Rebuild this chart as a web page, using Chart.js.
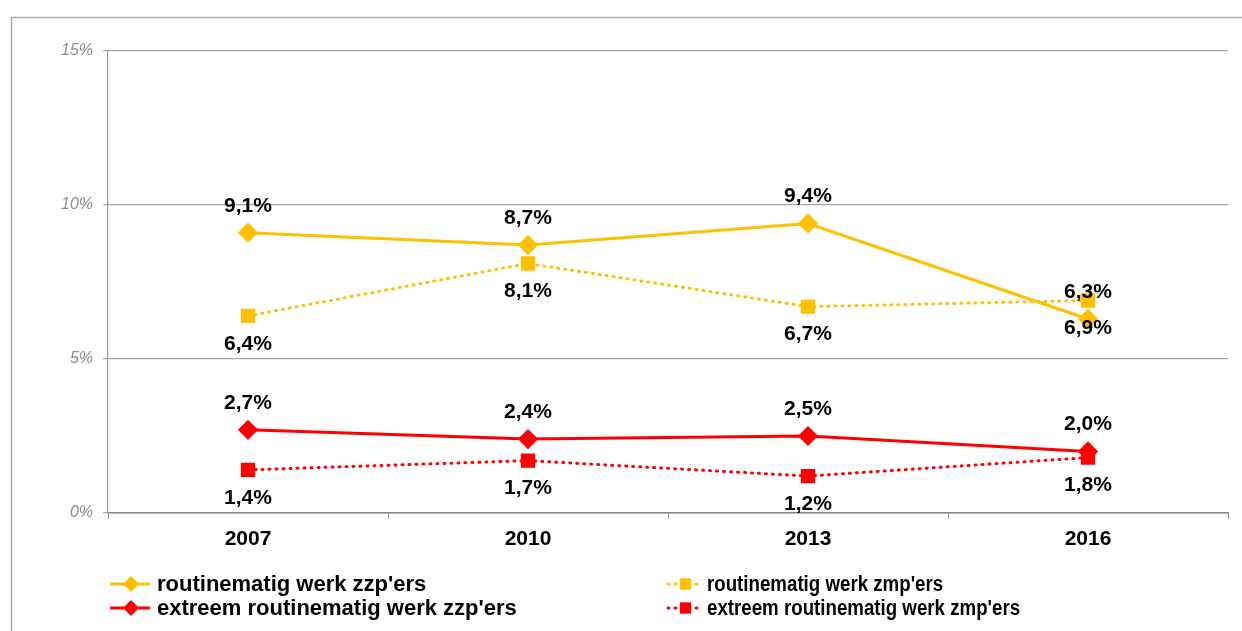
<!DOCTYPE html>
<html>
<head>
<meta charset="utf-8">
<script src="https://cdn.jsdelivr.net/npm/chart.js@4/dist/chart.umd.min.js"></script>
<style>
  html, body { margin: 0; padding: 0; background: #fff; }
  #wrap { width: 1242px; height: 631px; position: relative; }
</style>
</head>
<body>
<div id="wrap"><canvas id="chart"></canvas></div>
<script>
const years = ['2007', '2010', '2013', '2016'];
const routineZzp = [9.1, 8.7, 9.4, 6.3];
const routineZmp = [6.4, 8.1, 6.7, 6.9];
const extreemZzp = [2.7, 2.4, 2.5, 2.0];
const extreemZmp = [1.4, 1.7, 1.2, 1.8];
const seriesNames = [
  "routinematig werk zzp'ers",
  "routinematig werk zmp'ers",
  "extreem routinematig werk zzp'ers",
  "extreem routinematig werk zmp'ers"
];
const yTicks = [0, 5, 10, 15];

const GOLD = '#FFC000';
const RED = '#FF0000';
const FONT = '"Liberation Sans", Arial, sans-serif';

function pct(v) {
  return v.toFixed(1).replace('.', ',') + '%';
}

function marker(ctx, style, x, y, r, color) {
  ctx.save();
  ctx.fillStyle = color;
  ctx.beginPath();
  if (style === 'rectRot') {
    ctx.moveTo(x, y - r);
    ctx.lineTo(x + r, y);
    ctx.lineTo(x, y + r);
    ctx.lineTo(x - r, y);
    ctx.closePath();
  } else {
    const s = r * Math.SQRT1_2;
    ctx.rect(x - s, y - s, 2 * s, 2 * s);
  }
  ctx.fill();
  ctx.restore();
}

// outer frame, value labels and the two-column legend
const extras = {
  id: 'extras',
  beforeDraw(chart) {
    const ctx = chart.ctx;
    ctx.save();
    ctx.strokeStyle = '#aaaaaa';
    ctx.lineWidth = 1.5;
    ctx.beginPath();
    ctx.moveTo(11.5, chart.height);
    ctx.lineTo(11.5, 17.5);
    ctx.lineTo(chart.width, 17.5);
    ctx.stroke();
    ctx.restore();
  },
  afterDatasetsDraw(chart) {
    const ctx = chart.ctx;
    ctx.save();
    ctx.font = 'bold 21px ' + FONT;
    ctx.fillStyle = '#000';
    ctx.textAlign = 'center';
    ctx.textBaseline = 'middle';
    chart.data.datasets.forEach((ds, i) => {
      const meta = chart.getDatasetMeta(i);
      meta.data.forEach((pt, j) => {
        const dy = ds.labelAbove ? -27 : 28;
        ctx.fillText(pct(ds.data[j]), pt.x, pt.y + dy);
      });
    });
    ctx.restore();
  },
  afterDraw(chart) {
    const ctx = chart.ctx;
    const cols = [
      { x: 110, len: 40, gap: 7, squeeze: 1 },
      { x: 668, len: 33, gap: 6, squeeze: 0.85 }
    ];
    const rows = [584, 608];
    ctx.save();
    ctx.font = 'bold 22px ' + FONT;
    ctx.textBaseline = 'middle';
    ctx.textAlign = 'left';
    chart.data.datasets.forEach((ds, i) => {
      const col = cols[i % 2];
      const y = rows[Math.floor(i / 2)];
      ctx.save();
      ctx.strokeStyle = ds.borderColor;
      ctx.lineWidth = 3;
      ctx.setLineDash(ds.borderDash || []);
      ctx.lineCap = ds.borderDash ? 'round' : 'butt';
      ctx.beginPath();
      ctx.moveTo(col.x, y);
      ctx.lineTo(col.x + col.len, y);
      ctx.stroke();
      ctx.restore();
      marker(ctx, ds.pointStyle, col.x + col.len / 2 + 1, y, 8, ds.borderColor);
      ctx.fillStyle = '#000';
      const w = ctx.measureText(ds.label).width * col.squeeze;
      ctx.fillText(ds.label, col.x + col.len + col.gap, y + 1, w);
    });
    ctx.restore();
  }
};

new Chart(document.getElementById('chart'), {
  type: 'line',
  data: {
    labels: years,
    datasets: [
      {
        label: seriesNames[0], data: routineZzp, labelAbove: true,
        borderColor: GOLD, backgroundColor: GOLD, borderWidth: 3,
        pointStyle: 'rectRot', pointRadius: 8, pointHoverRadius: 8
      },
      {
        label: seriesNames[1], data: routineZmp, labelAbove: false,
        borderColor: GOLD, backgroundColor: GOLD, borderWidth: 3,
        borderDash: [1, 6], borderCapStyle: 'round',
        pointStyle: 'rect', pointRadius: 8, pointHoverRadius: 8
      },
      {
        label: seriesNames[2], data: extreemZzp, labelAbove: true,
        borderColor: RED, backgroundColor: RED, borderWidth: 3,
        pointStyle: 'rectRot', pointRadius: 8, pointHoverRadius: 8
      },
      {
        label: seriesNames[3], data: extreemZmp, labelAbove: false,
        borderColor: RED, backgroundColor: RED, borderWidth: 3,
        borderDash: [1, 6], borderCapStyle: 'round',
        pointStyle: 'rect', pointRadius: 8, pointHoverRadius: 8
      }
    ]
  },
  options: {
    responsive: true,
    maintainAspectRatio: false,
    animation: false,
    layout: { padding: { left: 12, right: 14, top: 51, bottom: 58 } },
    plugins: {
      legend: { display: false },
      tooltip: { enabled: false }
    },
    scales: {
      x: {
        offset: true,
        grid: { offset: true, drawOnChartArea: false, color: '#999', tickLength: 6 },
        border: { color: '#888', width: 1.5 },
        ticks: {
          color: '#000', padding: 8,
          font: { family: FONT, size: 21, weight: 'bold' }
        },
        afterFit(scale) { scale.height = 60; }
      },
      y: {
        min: yTicks[0],
        max: yTicks[yTicks.length - 1],
        afterBuildTicks(scale) { scale.ticks = yTicks.map(v => ({ value: v })); },
        grid: { color: '#a6a6a6', lineWidth: 1.2, tickLength: 5 },
        border: { color: '#999', width: 1.2 },
        ticks: {
          color: '#8c8c8c', padding: 10,
          font: { family: FONT, size: 16, style: 'italic' },
          callback: v => v + '%'
        },
        afterFit(scale) { scale.width = 96; }
      }
    }
  },
  plugins: [extras]
});
</script>
</body>
</html>
